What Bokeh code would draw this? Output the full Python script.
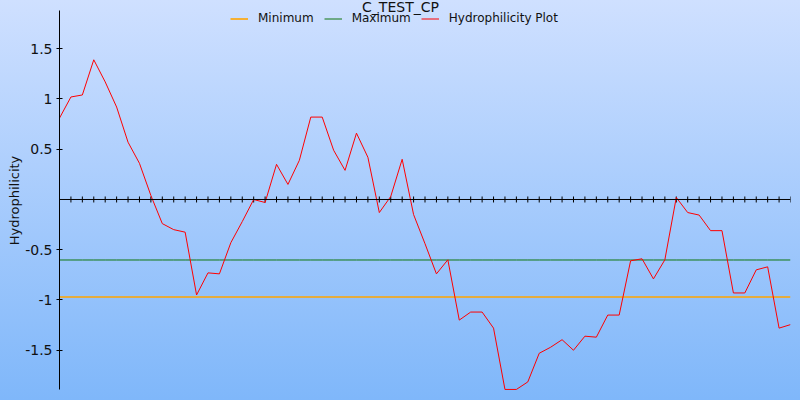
import math
from bokeh.plotting import figure
from bokeh.models import (FixedTicker, Range1d, Span, Legend, LegendItem, Label,
                          CustomJSTickFormatter)
from bokeh.embed import file_html
from bokeh.resources import INLINE

# ---- data ----
title_text = "C_TEST_CP"
y_label = "Hydrophilicity"
positions = list(range(65))
hydrophilicity = [0.81, 1.02, 1.04, 1.39, 1.17, 0.92, 0.57, 0.36, 0.04,
                  -0.24, -0.30, -0.325, -0.95, -0.73, -0.74, -0.43, -0.22, 0.0, -0.03,
                  0.35, 0.15, 0.39, 0.82, 0.82, 0.49, 0.29, 0.66, 0.42,
                  -0.13, 0.03, 0.40, -0.15, -0.44, -0.74, -0.60,
                  -1.20, -1.12, -1.12, -1.28, -1.89, -1.89, -1.815, -1.53, -1.47,
                  -1.395, -1.50, -1.36, -1.37, -1.15, -1.15,
                  -0.61, -0.59, -0.79, -0.60, 0.02, -0.13, -0.155, -0.31, -0.31,
                  -0.93, -0.93, -0.70, -0.67, -1.28, -1.245]
minimum_level = -0.97
maximum_level = -0.602
y_ticks = [-1.5, -1, -0.5, 0.5, 1, 1.5]
y_axis_bounds = (-1.89, 1.88)     # extent of the drawn vertical axis
y_view = (-2.0, 1.98)             # visible range of the canvas

FONT = "DejaVu Sans"

p = figure(width=800, height=400, output_backend="svg", toolbar_location=None,
           x_axis_location=None, y_axis_location="left",
           x_range=Range1d(positions[0], positions[-1]),
           y_range=Range1d(*y_view),
           min_border_left=59, min_border_right=10, min_border_top=0, min_border_bottom=0)
p.styles = {"background": "linear-gradient(#cfe0ff, #7fb7fa)"}
p.background_fill_alpha = 0
p.border_fill_alpha = 0
p.outline_line_alpha = 0
p.grid.visible = False

# y axis
ya = p.yaxis[0]
ya.bounds = y_axis_bounds
ya.ticker = FixedTicker(ticks=y_ticks)
ya.formatter = CustomJSTickFormatter(code="return tick.toString();")
ya.major_tick_in = 3
ya.major_tick_out = 3
ya.minor_tick_line_color = None
ya.major_label_standoff = 4
ya.major_label_text_font = FONT
ya.major_label_text_font_size = "14px"
ya.major_label_text_color = "#111111"
ya.axis_line_color = "black"
ya.major_tick_line_color = "black"
ya.axis_label = y_label
ya.axis_label_text_font = FONT
ya.axis_label_text_font_size = "13px"
ya.axis_label_text_font_style = "normal"
ya.axis_label_text_color = "#111111"
ya.axis_label_standoff = 0

# horizontal axis through zero with a tick at every position
p.add_layout(Span(location=0, dimension="width", line_color="black", line_width=1))
n = len(positions)
p.scatter(positions, [0] * n, marker="dash", angle=math.pi / 2, size=6,
          line_color="black", line_width=1)

r_min = p.line(positions, [minimum_level] * n, line_color="#ffa500", line_width=1.6)
r_max = p.line(positions, [maximum_level] * n, line_color="#107510", line_width=1)
r_hyd = p.line(positions, hydrophilicity, line_color="#ff0000", line_width=1)

legend = Legend(items=[LegendItem(label="Minimum", renderers=[r_min]),
                       LegendItem(label="Maximum", renderers=[r_max]),
                       LegendItem(label="Hydrophilicity Plot", renderers=[r_hyd])],
                orientation="horizontal", location=(171, 375),
                padding=0, margin=0, spacing=10, label_standoff=10,
                glyph_width=18, glyph_height=13, label_height=14,
                label_text_font=FONT, label_text_font_size="12px",
                label_text_color="#111111",
                background_fill_alpha=0, border_line_alpha=0)
p.add_layout(legend, "center")

title = Label(x=341, y=402, x_units="screen", y_units="screen", text=title_text,
              text_align="center", text_baseline="top",
              text_font=FONT, text_font_size="14px", text_color="#111111")
p.add_layout(title)

open("out.html", "w").write(file_html(p, INLINE))
